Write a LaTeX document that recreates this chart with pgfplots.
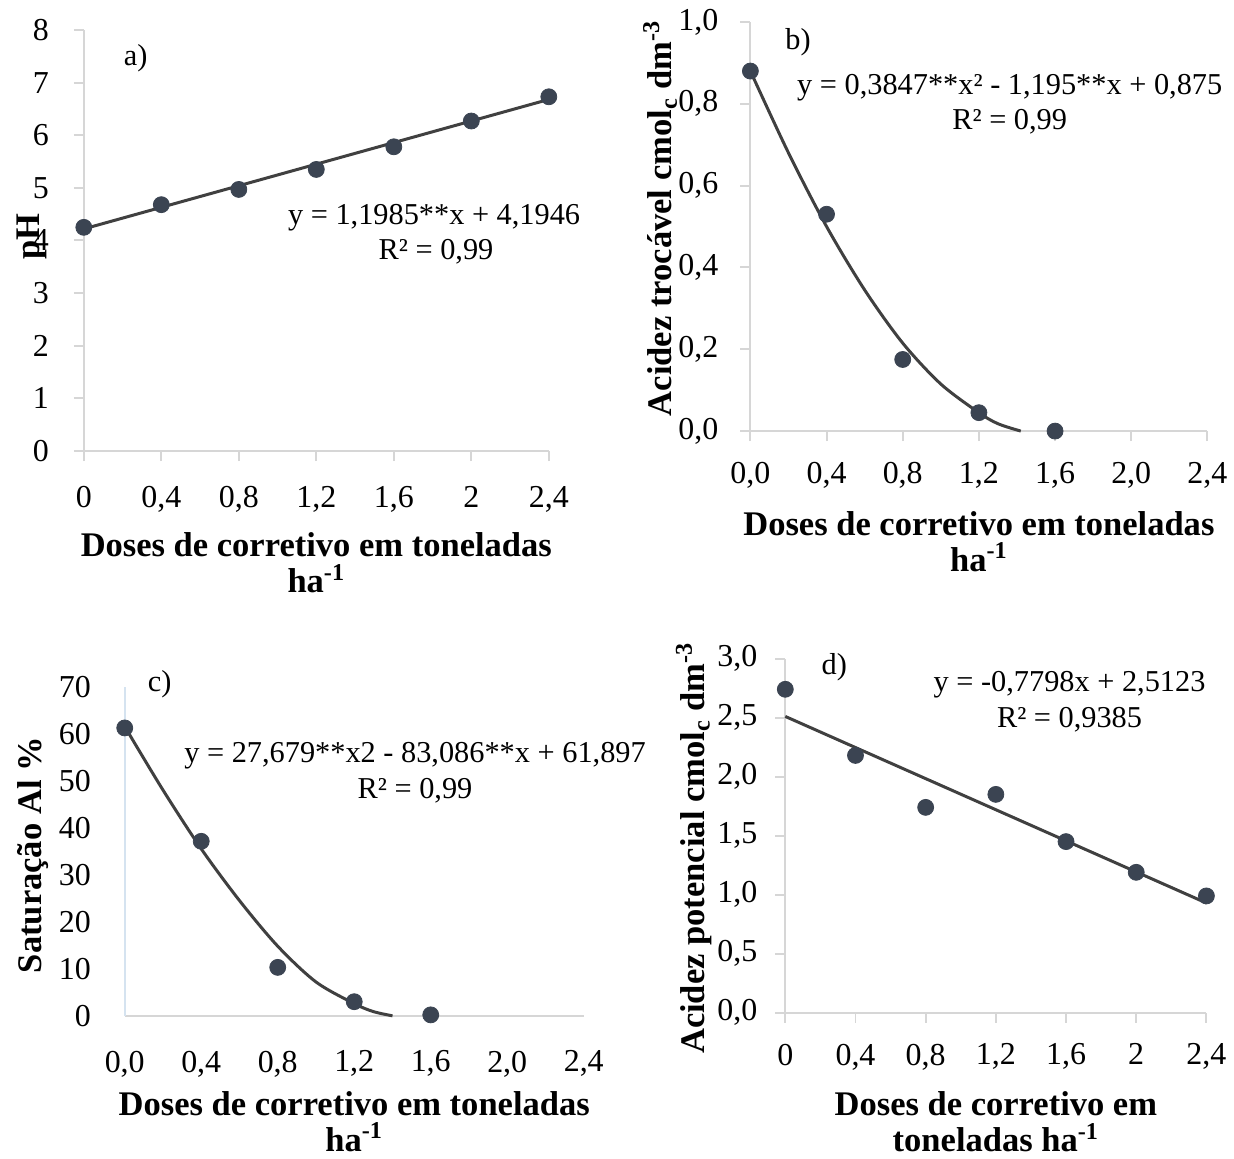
\documentclass[border=0pt]{standalone}
\usepackage{pgfplots}
\pgfplotsset{compat=1.18}
\usepackage{fontspec}
\setmainfont{Liberation Serif}

\definecolor{dotc}{HTML}{3B4452}
\definecolor{linec}{HTML}{404040}
\definecolor{axc}{HTML}{D6D6D6}
\definecolor{axblue}{HTML}{D5E3F0}

\pgfplotsset{
  panel/.style={
    scale only axis, clip=false,
    axis lines*=left,
    axis line style={axc, line width=1pt},
    tick style={axc, line width=1pt},
    major tick length=5pt,
    tick align=outside,
    font=\fontsize{16}{18}\selectfont,
    /pgf/number format/assume math mode=true,
    /pgf/number format/use comma,
    xtick={0,0.4,...,2.41}, xmin=0, xmax=2.4,
    xlabel style={font=\fontsize{17.3}{18}\selectfont\bfseries, align=center,
      at={(axis description cs:0.5,0)}, anchor=north},
    ylabel style={font=\fontsize{17.3}{18}\selectfont\bfseries, anchor=south},
  },
  dots/.style={only marks, mark=*, mark size=4pt, mark options={fill=dotc, draw=dotc}},
  fit/.style={no marks, draw=linec, line width=1.5pt},
  onedec/.style={/pgf/number format/fixed, /pgf/number format/fixed zerofill, /pgf/number format/precision=1},
}
\tikzset{eq/.style={font=\fontsize{15.2}{17}\selectfont, anchor=center}}

\begin{document}
\begin{tikzpicture}
\path (0,0) rectangle (617pt,-579.5pt);

% a) pH
\begin{axis}[panel, at={(42pt,-226pt)}, anchor=south west,
  width=233pt, height=211pt,
  ymin=0, ymax=8, ytick={0,1,...,8},
  xticklabel style={yshift=-9pt}, yticklabel style={xshift=-9pt},
  xlabel style={yshift=-37.4pt},
  ylabel style={at={(axis description cs:-0.065,0.509)}},
  xlabel={Doses de corretivo em toneladas\\ha\textsuperscript{-1}},
  ylabel={pH}]
\addplot[fit] coordinates {(0,4.22) (2.4,6.68)};
\addplot[dots] coordinates {(0,4.25) (0.4,4.68) (0.8,4.97) (1.2,5.35) (1.6,5.78) (2.0,6.27) (2.4,6.73)};
\node[eq] at (axis cs:0.268,7.47) {a)};
\node[eq] at (axis cs:1.808,4.44) {y = 1,1985**x + 4,1946};
\node[eq] at (axis cs:1.818,3.79) {R² = 0,99};
\end{axis}

% b) acidez trocavel
\begin{axis}[panel, at={(376pt,-216pt)}, anchor=south west,
  width=229pt, height=205pt,
  ymin=0, ymax=1, ytick={0,0.2,...,1.01},
  xticklabel style={onedec, yshift=-7pt}, yticklabel style={onedec, xshift=-7.5pt},
  xlabel style={yshift=-36.7pt},
  ylabel style={at={(axis description cs:-0.145,0.52)}},
  xlabel={Doses de corretivo em toneladas\\ha\textsuperscript{-1}},
  ylabel={Acidez trocável cmol\textsubscript{c} dm\textsuperscript{-3}}]
\addplot[fit, smooth] coordinates {(0,0.88) (0.2,0.68) (0.4,0.50) (0.6,0.345) (0.8,0.215) (1.0,0.115) (1.2,0.045) (1.3,0.018) (1.42,0.0)};
\addplot[dots] coordinates {(0,0.88) (0.4,0.53) (0.8,0.175) (1.2,0.045) (1.6,0.0)};
\node[eq] at (axis cs:0.25,0.951) {b)};
\node[eq] at (axis cs:1.362,0.839) {y = 0,3847**x² - 1,195**x + 0,875};
\node[eq] at (axis cs:1.362,0.756) {R² = 0,99};
\end{axis}

% c) saturacao Al
\begin{axis}[panel, at={(62.5pt,-509pt)}, anchor=south west,
  width=230pt, height=165pt,
  major tick length=0pt,
  y axis line style={axblue},
  ymin=0, ymax=70, ytick={0,10,...,70},
  xticklabel style={onedec, yshift=-14pt}, yticklabel style={xshift=-13.5pt},
  xlabel style={yshift=-34.4pt},
  ylabel style={at={(axis description cs:-0.151,0.488)}},
  xlabel={Doses de corretivo em toneladas\\ha\textsuperscript{-1}},
  ylabel={Saturação Al \%}]
\addplot[fit, smooth] coordinates {(0,61.5) (0.2,48) (0.4,35.5) (0.6,24.5) (0.8,14.8) (1.0,7.2) (1.2,2.6) (1.3,0.9) (1.4,0)};
\addplot[dots] coordinates {(0,61.2) (0.4,37.1) (0.8,10.3) (1.2,3.0) (1.6,0.2)};
\node[eq] at (axis cs:0.183,70.4) {c)};
\node[eq] at (axis cs:1.518,55.2) {y = 27,679**x2 - 83,086**x + 61,897};
\node[eq] at (axis cs:1.518,47.9) {R² = 0,99};
\end{axis}

% d) acidez potencial
\begin{axis}[panel, at={(393.5pt,-507.5pt)}, anchor=south west,
  width=211pt, height=177.5pt,
  ymin=0, ymax=3, ytick={0,0.5,...,3.01},
  xticklabel style={yshift=-7pt}, yticklabel style={onedec, xshift=-5.5pt},
  xlabel style={yshift=-36pt},
  ylabel style={at={(axis description cs:-0.158,0.465)}},
  xlabel={Doses de corretivo em\\toneladas ha\textsuperscript{-1}},
  ylabel={Acidez potencial cmol\textsubscript{c} dm\textsuperscript{-3}}]
\addplot[fit] coordinates {(0,2.51) (2.4,0.93)};
\addplot[dots] coordinates {(0,2.74) (0.4,2.18) (0.8,1.74) (1.2,1.85) (1.6,1.45) (2.0,1.19) (2.4,0.99)};
\node[eq] at (axis cs:0.279,2.93) {d)};
\node[eq] at (axis cs:1.62,2.78) {y = -0,7798x + 2,5123};
\node[eq] at (axis cs:1.62,2.48) {R² = 0,9385};
\end{axis}
\end{tikzpicture}
\end{document}
